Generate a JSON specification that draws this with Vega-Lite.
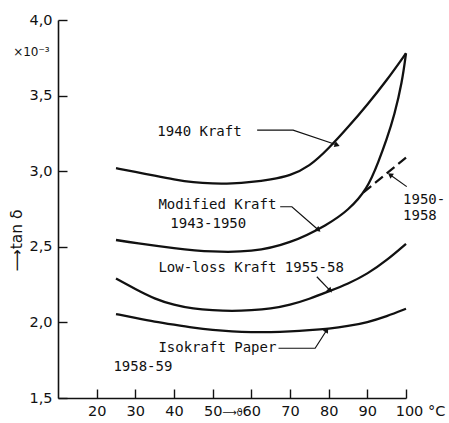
{
  "$schema": "https://vega.github.io/schema/vega-lite/v6.json",
  "width": 348,
  "height": 378,
  "autosize": "none",
  "padding": {"left": 58, "top": 20, "right": 43, "bottom": 25},
  "background": "white",
  "config": {
    "view": {"stroke": null},
    "font": "DejaVu Sans",
    "axis": {"grid": false, "domainColor": "#111", "domainWidth": 1.6, "tickColor": "#111", "tickWidth": 1.4, "labelColor": "#111", "titleColor": "#111", "labelFont": "DejaVu Sans", "titleFont": "DejaVu Sans", "titleFontWeight": "normal"}
  },
  "datasets": {
    "curves": [
      {"series": "1940 Kraft", "T": 25, "v": 3.02},
      {"series": "1940 Kraft", "T": 30, "v": 2.995},
      {"series": "1940 Kraft", "T": 35, "v": 2.97},
      {"series": "1940 Kraft", "T": 40, "v": 2.945},
      {"series": "1940 Kraft", "T": 45, "v": 2.925},
      {"series": "1940 Kraft", "T": 50, "v": 2.918},
      {"series": "1940 Kraft", "T": 55, "v": 2.918},
      {"series": "1940 Kraft", "T": 60, "v": 2.928},
      {"series": "1940 Kraft", "T": 65, "v": 2.945},
      {"series": "1940 Kraft", "T": 70, "v": 2.97},
      {"series": "1940 Kraft", "T": 75, "v": 3.03},
      {"series": "1940 Kraft", "T": 80, "v": 3.15},
      {"series": "1940 Kraft", "T": 85, "v": 3.29},
      {"series": "1940 Kraft", "T": 90, "v": 3.44},
      {"series": "1940 Kraft", "T": 95, "v": 3.6},
      {"series": "1940 Kraft", "T": 100, "v": 3.78},
      {"series": "Modified Kraft", "T": 25, "v": 2.545},
      {"series": "Modified Kraft", "T": 30, "v": 2.525},
      {"series": "Modified Kraft", "T": 40, "v": 2.49},
      {"series": "Modified Kraft", "T": 50, "v": 2.465},
      {"series": "Modified Kraft", "T": 60, "v": 2.465},
      {"series": "Modified Kraft", "T": 70, "v": 2.52},
      {"series": "Modified Kraft", "T": 80, "v": 2.65},
      {"series": "Modified Kraft", "T": 85, "v": 2.74},
      {"series": "Modified Kraft", "T": 90, "v": 2.88},
      {"series": "Modified Kraft", "T": 93, "v": 3.07},
      {"series": "Modified Kraft", "T": 95, "v": 3.21},
      {"series": "Modified Kraft", "T": 97, "v": 3.37},
      {"series": "Modified Kraft", "T": 99, "v": 3.59},
      {"series": "Modified Kraft", "T": 100, "v": 3.78},
      {"series": "Low-loss Kraft", "T": 25, "v": 2.29},
      {"series": "Low-loss Kraft", "T": 30, "v": 2.22},
      {"series": "Low-loss Kraft", "T": 35, "v": 2.155},
      {"series": "Low-loss Kraft", "T": 40, "v": 2.115},
      {"series": "Low-loss Kraft", "T": 45, "v": 2.09},
      {"series": "Low-loss Kraft", "T": 50, "v": 2.08},
      {"series": "Low-loss Kraft", "T": 55, "v": 2.075},
      {"series": "Low-loss Kraft", "T": 60, "v": 2.08},
      {"series": "Low-loss Kraft", "T": 65, "v": 2.09},
      {"series": "Low-loss Kraft", "T": 70, "v": 2.115},
      {"series": "Low-loss Kraft", "T": 75, "v": 2.155},
      {"series": "Low-loss Kraft", "T": 80, "v": 2.205},
      {"series": "Low-loss Kraft", "T": 85, "v": 2.255},
      {"series": "Low-loss Kraft", "T": 90, "v": 2.32},
      {"series": "Low-loss Kraft", "T": 95, "v": 2.41},
      {"series": "Low-loss Kraft", "T": 100, "v": 2.52},
      {"series": "Isokraft Paper", "T": 25, "v": 2.055},
      {"series": "Isokraft Paper", "T": 30, "v": 2.03},
      {"series": "Isokraft Paper", "T": 35, "v": 2.005},
      {"series": "Isokraft Paper", "T": 40, "v": 1.985},
      {"series": "Isokraft Paper", "T": 45, "v": 1.965},
      {"series": "Isokraft Paper", "T": 50, "v": 1.95},
      {"series": "Isokraft Paper", "T": 55, "v": 1.94},
      {"series": "Isokraft Paper", "T": 60, "v": 1.935},
      {"series": "Isokraft Paper", "T": 65, "v": 1.935},
      {"series": "Isokraft Paper", "T": 70, "v": 1.94},
      {"series": "Isokraft Paper", "T": 75, "v": 1.948},
      {"series": "Isokraft Paper", "T": 80, "v": 1.958},
      {"series": "Isokraft Paper", "T": 85, "v": 1.975},
      {"series": "Isokraft Paper", "T": 90, "v": 2.0},
      {"series": "Isokraft Paper", "T": 95, "v": 2.04},
      {"series": "Isokraft Paper", "T": 100, "v": 2.09}
    ],
    "dashed": [
      {"T": 89, "v": 2.86},
      {"T": 100, "v": 3.09}
    ],
    "labels": [
      {"text": "1940 Kraft", "T": 35.7, "v": 3.258},
      {"text": "Modified Kraft", "T": 35.96, "v": 2.776},
      {"text": "1943-1950", "T": 39.05, "v": 2.651},
      {"text": "Low-loss Kraft 1955-58", "T": 35.96, "v": 2.36},
      {"text": "Isokraft Paper", "T": 35.96, "v": 1.831},
      {"text": "1958-59", "T": 24.33, "v": 1.705},
      {"text": "1950-", "T": 99.23, "v": 2.81},
      {"text": "1958", "T": 99.23, "v": 2.704}
    ],
    "notes": [
      {"text": "×10⁻³", "T": -1.6, "v": 3.79}
    ],
    "leaders": [
      {"id": "a", "o": 1, "T": 61.5, "v": 3.272},
      {"id": "a", "o": 2, "T": 70.8, "v": 3.272},
      {"id": "a", "o": 3, "T": 82.2, "v": 3.173},
      {"id": "b", "o": 1, "T": 67.46, "v": 2.765},
      {"id": "b", "o": 2, "T": 70.49, "v": 2.765},
      {"id": "b", "o": 3, "T": 77.36, "v": 2.611},
      {"id": "c", "o": 1, "T": 76.94, "v": 2.302},
      {"id": "c", "o": 2, "T": 80.38, "v": 2.21},
      {"id": "d", "o": 1, "T": 67.03, "v": 1.829},
      {"id": "d", "o": 2, "T": 76.5, "v": 1.829},
      {"id": "d", "o": 3, "T": 79.52, "v": 1.95},
      {"id": "e", "o": 1, "T": 100.19, "v": 2.898},
      {"id": "e", "o": 2, "T": 95.88, "v": 2.976}
    ],
    "arrows": [
      {"T": 82.2, "v": 3.173, "angle": 109},
      {"T": 77.36, "v": 2.611, "angle": 131},
      {"T": 80.38, "v": 2.21, "angle": 136},
      {"T": 79.52, "v": 1.95, "angle": 33},
      {"T": 95.88, "v": 2.976, "angle": -55}
    ]
  },
  "layer": [
    {
      "data": {"name": "curves"},
      "mark": {"type": "line", "interpolate": "basis", "color": "#111", "strokeWidth": 2.3, "clip": false},
      "encoding": {
        "x": {"field": "T", "type": "quantitative", "scale": {"domain": [10, 100], "nice": false, "zero": false},
          "axis": {"values": [20, 30, 40, 50, 60, 70, 80, 90, 100], "tickSize": -9, "labelPadding": 15, "labelFontSize": 14.5,
            "labelOverlap": false, "labelFlush": false,
            "labelExpr": "datum.value == 100 ? '100 °C' : datum.label",
            "labelOffset": {"condition": {"test": "datum.value == 100", "value": 14}, "value": 0},
            "title": "⟶ϑ", "titleFontSize": 10, "titleY": 14, "titleBaseline": "middle"}},
        "y": {"field": "v", "type": "quantitative", "scale": {"domain": [1.5, 4.0], "nice": false, "zero": false},
          "axis": {"values": [1.5, 2.0, 2.5, 3.0, 3.5, 4.0], "tickSize": -9, "labelPadding": 15, "labelFontSize": 14.5,
            "labelExpr": "replace(format(datum.value, '.1f'), '.', ',')",
            "title": "⟶tan δ", "titleFontSize": 15.5, "titleX": -34, "titleY": 220, "titleAngle": -90}},
        "detail": {"field": "series"}
      }
    },
    {
      "data": {"name": "dashed"},
      "mark": {"type": "line", "color": "#111", "strokeWidth": 2.2, "strokeDash": [10, 5], "clip": false},
      "encoding": {
        "x": {"field": "T", "type": "quantitative"},
        "y": {"field": "v", "type": "quantitative"}
      }
    },
    {
      "data": {"name": "leaders"},
      "mark": {"type": "line", "color": "#111", "strokeWidth": 1.2, "clip": false},
      "encoding": {
        "x": {"field": "T", "type": "quantitative"},
        "y": {"field": "v", "type": "quantitative"},
        "detail": {"field": "id"},
        "order": {"field": "o"}
      }
    },
    {
      "data": {"name": "arrows"},
      "mark": {"type": "point", "shape": "triangle-up", "filled": true, "color": "#111", "size": 36, "opacity": 1, "clip": false},
      "encoding": {
        "x": {"field": "T", "type": "quantitative"},
        "y": {"field": "v", "type": "quantitative"},
        "angle": {"field": "angle", "type": "quantitative", "scale": null}
      }
    },
    {
      "data": {"name": "labels"},
      "mark": {"type": "text", "align": "left", "baseline": "middle", "font": "DejaVu Sans Mono", "fontSize": 14, "color": "#111", "clip": false},
      "encoding": {
        "x": {"field": "T", "type": "quantitative"},
        "y": {"field": "v", "type": "quantitative"},
        "text": {"field": "text"}
      }
    },
    {
      "data": {"name": "notes"},
      "mark": {"type": "text", "align": "left", "baseline": "middle", "fontSize": 12, "color": "#111", "clip": false},
      "encoding": {
        "x": {"field": "T", "type": "quantitative"},
        "y": {"field": "v", "type": "quantitative"},
        "text": {"field": "text"}
      }
    }
  ]
}
